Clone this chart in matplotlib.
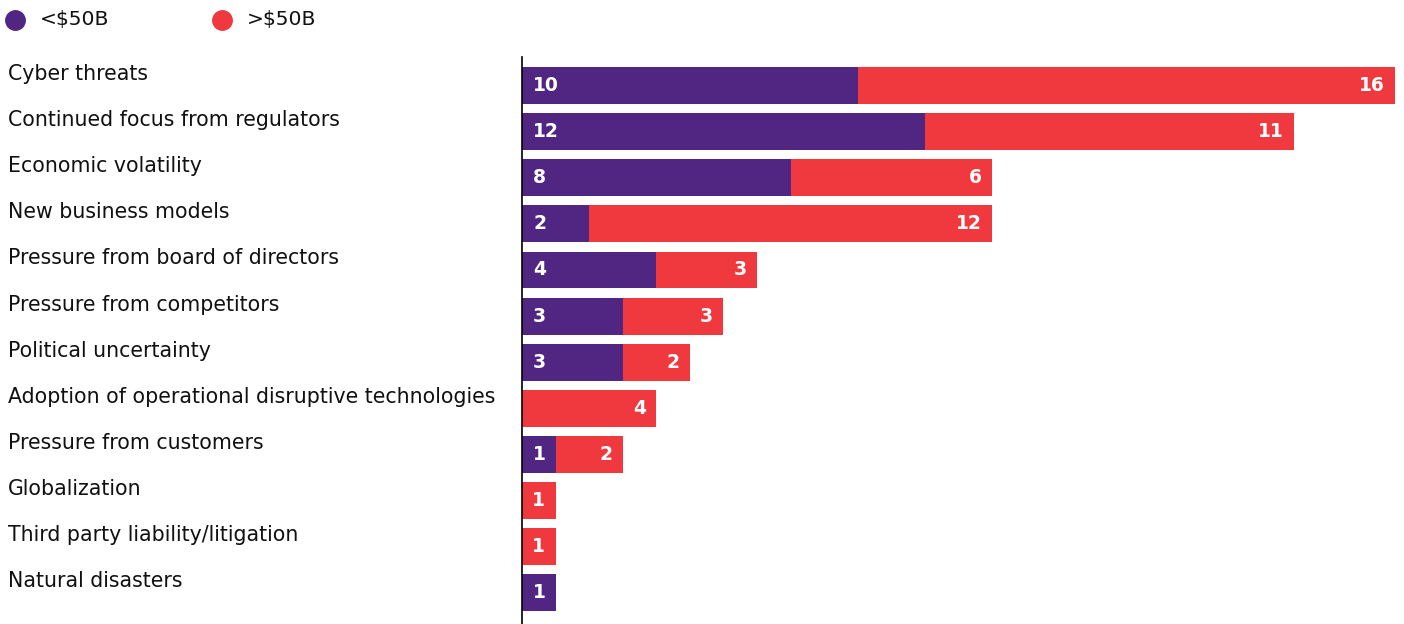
import numpy as np
import matplotlib
matplotlib.use("Agg")
import matplotlib.pyplot as plt
import matplotlib.transforms as mtransforms
from matplotlib.lines import Line2D

# data
categories = ["Cyber threats", "Continued focus from regulators", "Economic volatility",
              "New business models", "Pressure from board of directors",
              "Pressure from competitors", "Political uncertainty",
              "Adoption of operational disruptive technologies",
              "Pressure from customers", "Globalization",
              "Third party liability/litigation", "Natural disasters"]
small_vals = [10, 12, 8, 2, 4, 3, 3, 0, 1, 0, 0, 1]
large_vals = [16, 11, 6, 12, 3, 3, 2, 4, 2, 1, 1, 0]
series_names = ["<$50B", ">$50B"]

PURPLE = "#512682"
RED = "#f0383f"

plt.rcParams['font.family'] = ['DejaVu Sans']

fig = plt.figure(figsize=(14.04, 6.24), dpi=100)
W, H = 1404, 624
ax = fig.add_axes([522 / W, 0, 1 - 522 / W, 1 - 57 / H])

y = np.arange(len(categories))
small = np.array(small_vals)
large = np.array(large_vals)

ax.barh(y, small, height=0.8, color=PURPLE, linewidth=0)
ax.barh(y, large, left=small, height=0.8, color=RED, linewidth=0)

ax.set_xlim(0, (W - 522) / 33.58)
ax.set_ylim(11.68, -0.62)
for s in ["top", "right", "bottom"]:
    ax.spines[s].set_visible(False)
ax.spines["left"].set_linewidth(1.2)
ax.spines["left"].set_color("black")
ax.set_xticks([])
ax.set_yticks([])

# value labels
for i in range(len(categories)):
    if small[i] > 0:
        off = mtransforms.offset_copy(ax.transData, fig=fig, x=8, y=0, units='points')
        ax.text(0, i, str(small[i]), transform=off, color="white", fontsize=13.5,
                fontweight="bold", ha="left", va="center")
    if large[i] > 0:
        end = small[i] + large[i]
        if large[i] == 1:
            ax.text(small[i] + 0.5, i, str(large[i]), color="white", fontsize=13.5,
                    fontweight="bold", ha="center", va="center")
        else:
            off = mtransforms.offset_copy(ax.transData, fig=fig, x=-7.5, y=0, units='points')
            ax.text(end, i, str(large[i]), transform=off, color="white", fontsize=13.5,
                    fontweight="bold", ha="right", va="center")

# category labels on the left
trans = mtransforms.blended_transform_factory(fig.transFigure, ax.transData)
trans = mtransforms.offset_copy(trans, fig=fig, x=0, y=4, units='points')
for i, cat in enumerate(categories):
    ax.text(8 / W, i, cat, transform=trans, fontsize=14.8, color="#111111",
            ha="left", va="baseline", clip_on=False)

# legend at the top
legend_x = [15, 222]
colors = [PURPLE, RED]
for lx, c, name in zip(legend_x, colors, series_names):
    fig.add_artist(Line2D([lx / W], [1 - 20 / H], marker="o", markersize=14,
                          color=c, linestyle="none", transform=fig.transFigure))
    fig.text((lx + 25) / W, 1 - 20 / H, name, fontsize=14.6, color="#111111",
             ha="left", va="center")

fig.savefig("out.png", dpi=100)
